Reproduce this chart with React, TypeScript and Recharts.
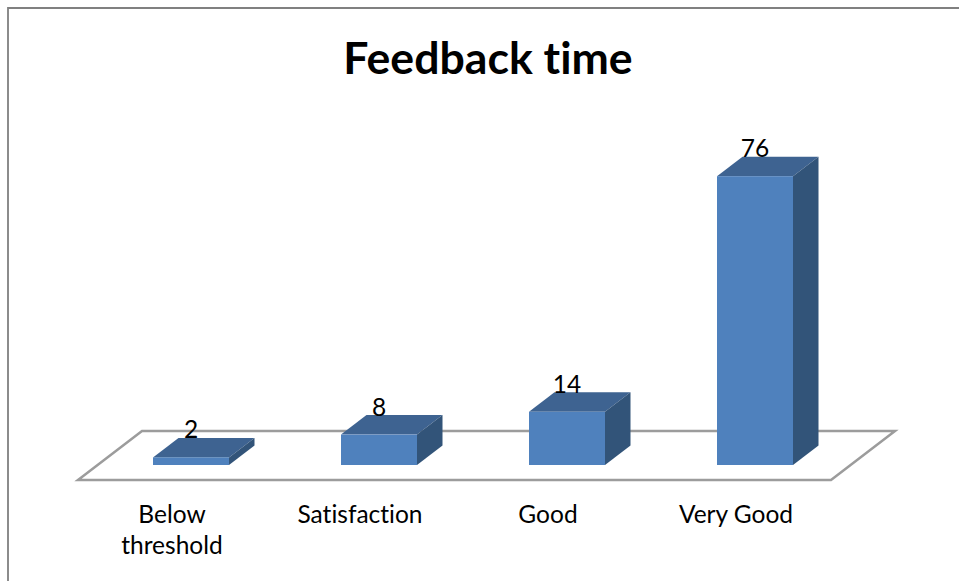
import React from 'react';
import { BarChart, Bar, XAxis, YAxis, LabelList, Customized } from 'recharts';

const categories = ['Below threshold', 'Satisfaction', 'Good', 'Very Good'];
const tickLines = [['Below', 'threshold'], ['Satisfaction'], ['Good'], ['Very Good']];
const values = [2, 8, 14, 76];
const data = categories.map((name, i) => ({ name, value: values[i] }));

const FONT = 'Lato, sans-serif';
const DEPTH_X = 25.5;
const DEPTH_Y = 19.5;
const textStyle = { fontSize: 24.5, fontFamily: FONT, fontVariantLigatures: 'none' };

// front, top and side faces of the 3d column
const Column = (props: any) => {
    const { x, y, width, height } = props;
    const r = x + width;
    const b = y + height;
    return (
        <g>
            <polygon points={`${x},${y} ${x + DEPTH_X},${y - DEPTH_Y} ${r + DEPTH_X},${y - DEPTH_Y} ${r},${y}`} fill="#3E6391" />
            <polygon points={`${r},${y} ${r + DEPTH_X},${y - DEPTH_Y} ${r + DEPTH_X},${b - DEPTH_Y} ${r},${b}`} fill="#325479" />
            <rect x={x} y={y} width={width} height={height} fill="#4F81BD" />
        </g>
    );
};

const CategoryTick = (props: any) => {
    const { x, y, index } = props;
    return (
        <text x={x - 19} y={y + 22} textAnchor="middle" style={textStyle} fill="#000000">
            {tickLines[index].map((line, i) => (
                <tspan key={line} x={x - 19} dy={i === 0 ? 0 : 31}>{line}</tspan>
            ))}
        </text>
    );
};

// floor, page frame and title
const Backdrop = () => (
    <g>
        <polyline points="8,581 8,8 959,8" fill="none" stroke="#808080" strokeWidth={1.8} />
        <polygon points="78,480 142,431 895,431 831,480" fill="#ffffff" stroke="#9C9C9C" strokeWidth={2.5} />
        <text x={488} y={74} textAnchor="middle" fontSize={44.6} fontWeight={700} fontFamily={FONT} fill="#000000"
            style={{ fontVariantLigatures: 'none' }}>
            Feedback time
        </text>
    </g>
);

export default function App() {
    return (
        <div style={{ position: 'absolute', left: 0, top: 0 }}>
            <BarChart width={959} height={581} data={data} barSize={76}
                margin={{ top: 161, right: 110, bottom: 0, left: 97 }}>
                <Customized component={Backdrop} />
                <XAxis dataKey="name" axisLine={false} tickLine={false} height={116} tickMargin={30}
                    interval={0} tick={CategoryTick} />
                <YAxis hide domain={[0, 80]} />
                <Bar dataKey="value" shape={Column} isAnimationActive={false}>
                    <LabelList dataKey="value" position="top" offset={19} style={textStyle} fill="#000000" />
                </Bar>
            </BarChart>
        </div>
    );
}
